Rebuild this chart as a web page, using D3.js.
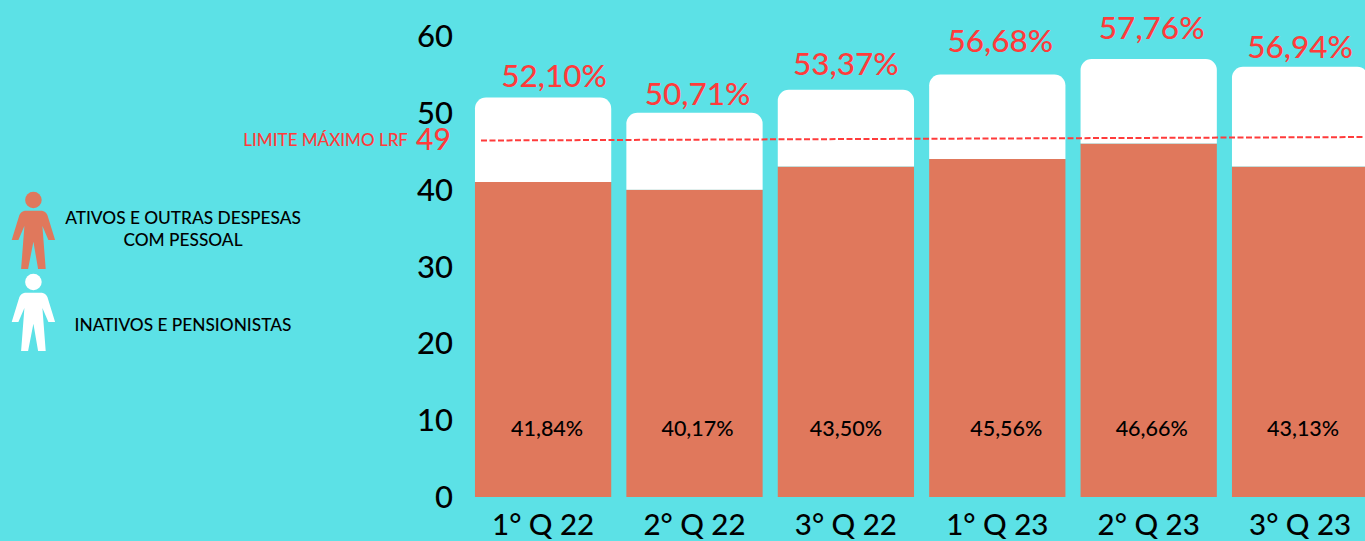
<!DOCTYPE html>
<html>

<head>
    <meta charset="utf-8">
    <title></title>
    <script src="https://d3js.org/d3.v7.min.js"></script>
    <style>
        html,
        body {
            margin: 0;
            height: 100%;
            overflow: hidden;
            background: #5ce1e6;
        }

        svg {
            display: block;
        }

        text {
            font-family: "Lato", sans-serif;
            font-weight: 500;
        }

        .axis .domain {
            display: none;
        }

        .axis line {
            display: none;
        }
    </style>
</head>

<body>

    <div id="chart"></div>

    <script>
        // Values (bars are drawn lower than their printed labels)
        const quarters = ["1° Q 22", "2° Q 22", "3° Q 22", "1° Q 23", "2° Q 23", "3° Q 23"];
        const ativos = [41, 40, 43, 44, 46, 43];
        const inativos = [11, 10, 10, 11, 11, 13];
        const totalLabels = ["52,10%", "50,71%", "53,37%", "56,68%", "57,76%", "56,94%"];
        const ativosLabels = ["41,84%", "40,17%", "43,50%", "45,56%", "46,66%", "43,13%"];
        const yTicks = [0, 10, 20, 30, 40, 50, 60];
        const limitTick = 49;
        const limitLine = [46.4, 46.85];

        const legendEntries = [
            { color: "#e0785c", lines: ["ATIVOS E OUTRAS DESPESAS", "COM PESSOAL"] },
            { color: "#ffffff", lines: ["INATIVOS E PENSIONISTAS"] },
        ];

        const w = 1365;
        const h = 541;
        const red = "#ff3b3b";

        const canvas = d3.select("#chart")
            .append("svg")
            .attr("width", w)
            .attr("height", h);

        canvas.append("rect")
            .attr("width", w)
            .attr("height", h)
            .style("fill", "#5ce1e6");

        // Scales
        const xScale = d3.scaleBand()
            .domain(quarters)
            .range([467.4, 1375.8])
            .paddingInner(0.1)
            .paddingOuter(0.05);

        const yScale = d3.scaleLinear()
            .domain([0, 60])
            .range([497, 36]);

        // Stack the two series
        const rows = quarters.map((q, i) => ({ quarter: q, ativos: ativos[i], inativos: inativos[i] }));
        const stacked = d3.stack().keys(["ativos", "inativos"])(rows);

        // Orange part
        canvas.append("g")
            .selectAll("rect")
            .data(stacked[0])
            .enter()
            .append("rect")
            .attr("x", (d) => xScale(d.data.quarter))
            .attr("y", (d) => yScale(d[1]))
            .attr("width", xScale.bandwidth())
            .attr("height", (d) => yScale(d[0]) - yScale(d[1]))
            .attr("fill", "#e0785c");

        // White part, rounded on top only
        const topRounded = (d) => {
            const x0 = xScale(d.data.quarter);
            const x1 = x0 + xScale.bandwidth();
            const y0 = yScale(d[0]);
            const y1 = yScale(d[1]);
            const r = 11;
            const p = d3.path();
            p.moveTo(x0, y0);
            p.lineTo(x0, y1 + r);
            p.arcTo(x0, y1, x0 + r, y1, r);
            p.lineTo(x1 - r, y1);
            p.arcTo(x1, y1, x1, y1 + r, r);
            p.lineTo(x1, y0);
            p.closePath();
            return p.toString();
        };

        canvas.append("g")
            .selectAll("path")
            .data(stacked[1])
            .enter()
            .append("path")
            .attr("d", topRounded)
            .attr("fill", "white");

        // Axes
        canvas.append("g")
            .attr("class", "axis")
            .attr("transform", "translate(456,0)")
            .call(d3.axisLeft(yScale).tickValues(yTicks).tickSize(0).tickPadding(3))
            .selectAll("text")
            .attr("dy", "0.34em")
            .style("font-size", "31px")
            .style("fill", "black");

        canvas.append("g")
            .attr("class", "axis")
            .attr("transform", "translate(0,514)")
            .call(d3.axisBottom(xScale).tickSize(0).tickPadding(0))
            .selectAll("text")
            .attr("dy", "0.72em")
            .style("font-size", "29.5px")
            .style("fill", "black");

        // Limit line and its label
        const xLimit = d3.scaleLinear().domain([0, 1]).range([481, 1365]);
        const limitPath = d3.line()
            .x((d, i) => xLimit(i))
            .y((d) => yScale(d));

        canvas.append("path")
            .datum(limitLine)
            .attr("fill", "none")
            .attr("stroke", red)
            .attr("stroke-width", 2)
            .attr("stroke-dasharray", "6 2.5")
            .attr("d", limitPath);

        canvas.append("text")
            .attr("x", 408)
            .attr("y", 146)
            .attr("text-anchor", "end")
            .style("font-size", "17px")
            .style("fill", red)
            .text("LIMITE MÁXIMO LRF");

        canvas.append("text")
            .attr("x", 416)
            .attr("y", 150)
            .style("font-size", "30px")
            .style("fill", red)
            .text(limitTick);

        // Value labels (not sitting at a fixed distance from the bars in the original)
        const totalNudgeX = [11, 3, 0, 3, 3, 0];
        const totalNudgeY = [22, 19, 26.5, 34, 31, 20.5];
        const ativosNudgeX = [4, 3, 0, 9, 3, 3];

        canvas.append("g")
            .selectAll("text")
            .data(stacked[1])
            .enter()
            .append("text")
            .attr("x", (d, i) => xScale(d.data.quarter) + xScale.bandwidth() / 2 + totalNudgeX[i])
            .attr("y", (d, i) => yScale(d[1]) - totalNudgeY[i])
            .attr("dy", "0.36em")
            .attr("text-anchor", "middle")
            .style("font-size", "31.5px")
            .style("fill", red)
            .text((d, i) => totalLabels[i]);

        canvas.append("g")
            .selectAll("text")
            .data(stacked[0])
            .enter()
            .append("text")
            .attr("x", (d, i) => xScale(d.data.quarter) + xScale.bandwidth() / 2 + ativosNudgeX[i])
            .attr("y", yScale(0) - 69)
            .attr("dy", "0.36em")
            .attr("text-anchor", "middle")
            .style("font-size", "21.5px")
            .style("fill", "black")
            .text((d, i) => ativosLabels[i]);

        // Legend
        const personBody = "M-8.5,10.7 L8.5,10.7 Q12,11 14,15 L21.7,40 L15,40 L9,26 L12.3,69 L4.7,69 L0,41.7 L-5.3,69 L-12.3,69 L-9,26 L-15,40 L-21.7,40 L-14,15 Q-12,11 -8.5,10.7 Z";

        const legend = canvas.append("g");
        const legendIconY = [200, 282];
        const legendTextY = [[224, 246], [331]];

        legendEntries.forEach((entry, i) => {
            const icon = legend.append("g")
                .attr("transform", `translate(33.4,${legendIconY[i]})`);

            icon.append("circle")
                .attr("r", 8.3)
                .attr("fill", entry.color);

            icon.append("path")
                .attr("d", personBody)
                .attr("fill", entry.color);

            entry.lines.forEach((line, j) => {
                legend.append("text")
                    .attr("x", 183)
                    .attr("y", legendTextY[i][j])
                    .attr("text-anchor", "middle")
                    .style("font-size", "17.3px")
                    .style("fill", "black")
                    .text(line);
            });
        });
    </script>
</body>

</html>
